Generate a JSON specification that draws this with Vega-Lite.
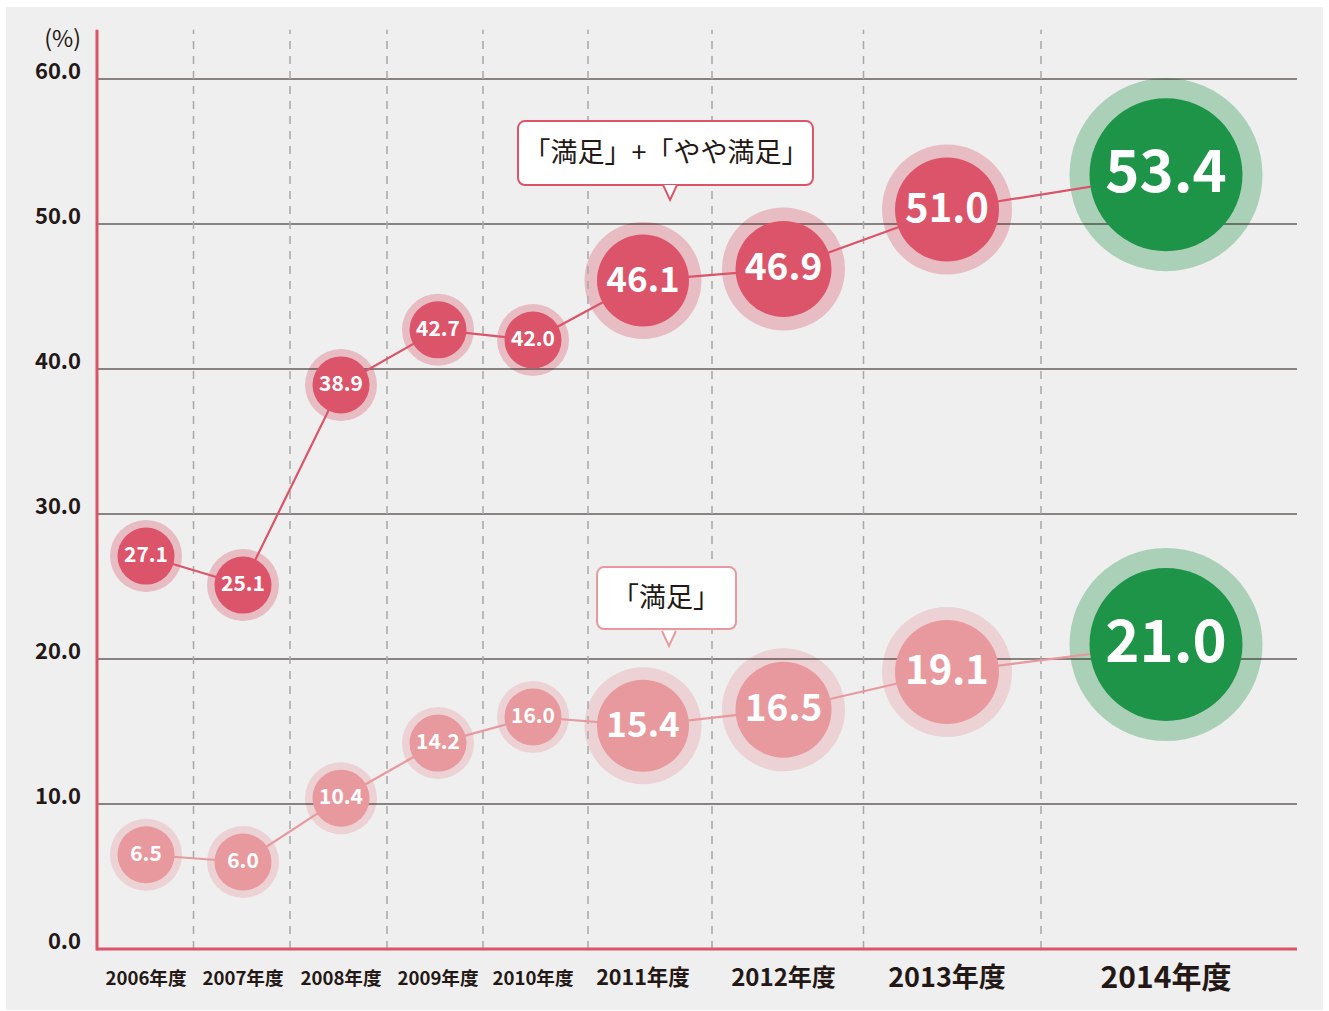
{
  "$schema": "https://vega.github.io/schema/vega-lite/v6.json",
  "width": 1317,
  "height": 1003,
  "padding": {"left": 6, "top": 7, "right": 6, "bottom": 1},
  "autosize": {"type": "none"},
  "background": "#ffffff",
  "config": {"view": {"fill": "#efefef", "stroke": null}, "font": "Noto Sans CJK JP"},
  "datasets": {
    "points": [
      {"year": "2006年度", "idx": 0, "series": "満足+やや満足", "value": 27.1},
      {"year": "2007年度", "idx": 1, "series": "満足+やや満足", "value": 25.1},
      {"year": "2008年度", "idx": 2, "series": "満足+やや満足", "value": 38.9},
      {"year": "2009年度", "idx": 3, "series": "満足+やや満足", "value": 42.7},
      {"year": "2010年度", "idx": 4, "series": "満足+やや満足", "value": 42.0},
      {"year": "2011年度", "idx": 5, "series": "満足+やや満足", "value": 46.1},
      {"year": "2012年度", "idx": 6, "series": "満足+やや満足", "value": 46.9},
      {"year": "2013年度", "idx": 7, "series": "満足+やや満足", "value": 51.0},
      {"year": "2014年度", "idx": 8, "series": "満足+やや満足", "value": 53.4},
      {"year": "2006年度", "idx": 0, "series": "満足", "value": 6.5},
      {"year": "2007年度", "idx": 1, "series": "満足", "value": 6.0},
      {"year": "2008年度", "idx": 2, "series": "満足", "value": 10.4},
      {"year": "2009年度", "idx": 3, "series": "満足", "value": 14.2},
      {"year": "2010年度", "idx": 4, "series": "満足", "value": 16.0},
      {"year": "2011年度", "idx": 5, "series": "満足", "value": 15.4},
      {"year": "2012年度", "idx": 6, "series": "満足", "value": 16.5},
      {"year": "2013年度", "idx": 7, "series": "満足", "value": 19.1},
      {"year": "2014年度", "idx": 8, "series": "満足", "value": 21.0}
    ],
    "years": [
      {"year": "2006年度", "idx": 0},
      {"year": "2007年度", "idx": 1},
      {"year": "2008年度", "idx": 2},
      {"year": "2009年度", "idx": 3},
      {"year": "2010年度", "idx": 4},
      {"year": "2011年度", "idx": 5},
      {"year": "2012年度", "idx": 6},
      {"year": "2013年度", "idx": 7},
      {"year": "2014年度", "idx": 8}
    ],
    "ticks": [
      {"tick": 0}, {"tick": 10}, {"tick": 20}, {"tick": 30}, {"tick": 40}, {"tick": 50}, {"tick": 60}
    ],
    "dividers": [
      {"between": "2006/2007", "boundary": 0.5},
      {"between": "2007/2008", "boundary": 1.5},
      {"between": "2008/2009", "boundary": 2.5},
      {"between": "2009/2010", "boundary": 3.5},
      {"between": "2010/2011", "boundary": 4.5},
      {"between": "2011/2012", "boundary": 5.5},
      {"between": "2012/2013", "boundary": 6.5},
      {"between": "2013/2014", "boundary": 7.5}
    ]
  },
  "layer": [
    {
      "data": {"name": "points"},
      "mark": {"type": "circle", "opacity": 0.33, "strokeWidth": 0},
      "encoding": {
        "x": {"field": "idx", "type": "quantitative", "axis": null, "scale": {"domain": [-1.5, -0.5, 0, 0.5, 1, 1.5, 2, 2.5, 3, 3.5, 4, 4.5, 5, 5.5, 6, 6.5, 7, 7.5, 8, 8.5, 9], "range": [0, 91, 140, 187.5, 237, 284, 335, 381, 432, 477, 527, 582, 637, 706, 777.5, 857.5, 941, 1035, 1160, 1291, 1317], "zero": false, "nice": false}},
        "y": {"field": "value", "type": "quantitative", "axis": null, "scale": {"domain": [-4.207, 64.966], "zero": false, "nice": false}},
        "size": {"field": "idx", "type": "quantitative", "scale": {"domain": [0, 4, 5, 6, 7, 8], "range": [5184, 5184, 13689, 15129, 16900, 37249], "zero": false}, "legend": null},
        "color": {"condition": {"test": "datum.idx === 8", "value": "#1e9448"}, "field": "series", "type": "nominal", "scale": {"domain": ["満足+やや満足", "満足"], "range": ["#dc5469", "#e8999d"]}, "legend": null}
      }
    },
    {
      "data": {"name": "ticks"},
      "transform": [{"filter": "datum.tick > 0"}],
      "mark": {"type": "rule", "color": "#231815", "strokeWidth": 1.2},
      "encoding": {
        "x": {"datum": -0.5, "axis": null},
        "x2": {"datum": 8.5},
        "y": {"field": "tick", "type": "quantitative", "axis": null}
      }
    },
    {
      "data": {"name": "dividers"},
      "mark": {"type": "rule", "color": "#a8a8a8", "strokeWidth": 1.5, "strokeDash": [8, 7]},
      "encoding": {
        "x": {"field": "boundary", "type": "quantitative", "axis": null},
        "y": {"datum": 0, "axis": null},
        "y2": {"datum": 63.4}
      }
    },
    {
      "data": {"name": "points"},
      "mark": {"type": "line", "strokeWidth": 2.2},
      "encoding": {
        "x": {"field": "idx", "type": "quantitative", "axis": null},
        "y": {"field": "value", "type": "quantitative", "axis": null},
        "color": {"field": "series", "type": "nominal", "legend": null},
        "order": {"field": "idx", "type": "quantitative"}
      }
    },
    {
      "data": {"name": "points"},
      "mark": {"type": "circle", "opacity": 1, "strokeWidth": 0},
      "encoding": {
        "x": {"field": "idx", "type": "quantitative", "axis": null},
        "y": {"field": "value", "type": "quantitative", "axis": null},
        "size": {"field": "idx", "type": "quantitative", "scale": {"domain": [0, 4, 5, 6, 7, 8], "range": [3249, 3249, 8464, 9216, 10816, 23409], "zero": false}, "legend": null},
        "color": {"condition": {"test": "datum.idx === 8", "value": "#1e9448"}, "field": "series", "type": "nominal", "legend": null}
      }
    },
    {
      "data": {"name": "points"},
      "mark": {"type": "text", "color": "#ffffff", "fontWeight": "bold", "baseline": "middle", "align": "center"},
      "encoding": {
        "x": {"field": "idx", "type": "quantitative", "axis": null},
        "y": {"field": "value", "type": "quantitative", "axis": null},
        "text": {"field": "value", "type": "quantitative", "format": ".1f"},
        "size": {"field": "idx", "type": "quantitative", "scale": {"domain": [0, 4, 5, 6, 7, 8], "range": [21, 21, 35, 37, 40, 58], "zero": false}, "legend": null}
      }
    },
    {
      "data": {"values": [{"axis": "y"}]},
      "mark": {"type": "rule", "color": "#dc5469", "strokeWidth": 3},
      "encoding": {
        "x": {"datum": -0.5, "axis": null},
        "y": {"datum": -0.1, "axis": null},
        "y2": {"datum": 63.4}
      }
    },
    {
      "data": {"values": [{"axis": "x"}]},
      "mark": {"type": "rule", "color": "#dc5469", "strokeWidth": 3},
      "encoding": {
        "x": {"datum": -0.5, "axis": null},
        "x2": {"datum": 8.5},
        "y": {"datum": 0, "axis": null}
      }
    },
    {
      "data": {"name": "ticks"},
      "mark": {"type": "text", "color": "#231815", "fontWeight": "bold", "fontSize": 22, "align": "right", "baseline": "middle", "dx": -16, "dy": -7},
      "encoding": {
        "x": {"datum": -0.5, "axis": null},
        "y": {"field": "tick", "type": "quantitative", "axis": null},
        "text": {"field": "tick", "type": "quantitative", "format": ".1f"}
      }
    },
    {
      "data": {"values": [{"unit": "(%)"}]},
      "mark": {"type": "text", "color": "#231815", "fontSize": 23, "align": "right", "baseline": "middle", "dx": -16},
      "encoding": {
        "x": {"datum": -0.5, "axis": null},
        "y": {"datum": 62.69, "axis": null},
        "text": {"field": "unit", "type": "nominal"}
      }
    },
    {
      "data": {"name": "years"},
      "mark": {"type": "text", "color": "#231815", "fontWeight": "bold", "align": "center", "baseline": "middle"},
      "encoding": {
        "x": {"field": "idx", "type": "quantitative", "axis": null},
        "y": {"datum": -2.1, "axis": null},
        "text": {"field": "year", "type": "nominal"},
        "size": {"field": "idx", "type": "quantitative", "scale": {"domain": [0, 4, 5, 6, 7, 8], "range": [18.6, 18.6, 21.5, 24, 27, 30], "zero": false}, "legend": null}
      }
    },
    {
      "data": {"values": [{"label": "「満足」+「やや満足」"}]},
      "mark": {"type": "rect", "fill": "#ffffff", "stroke": "#dc5469", "strokeWidth": 2, "cornerRadius": 7},
      "encoding": {
        "x": {"datum": 3.85, "axis": null},
        "x2": {"datum": 6.184},
        "y": {"datum": 57.1, "axis": null},
        "y2": {"datum": 52.69}
      }
    },
    {
      "data": {"values": [{"label": "「満足」+「やや満足」"}]},
      "mark": {"type": "point", "shape": "M -1 -1.15 L 0 1 L 1 -1.15", "size": 196, "filled": true, "fill": "#ffffff", "stroke": "#dc5469", "strokeWidth": 2, "opacity": 1},
      "encoding": {
        "x": {"datum": 5.196, "axis": null},
        "y": {"datum": 52.14, "axis": null}
      }
    },
    {
      "data": {"values": [{"label": "「満足」+「やや満足」"}]},
      "mark": {"type": "text", "color": "#231815", "fontSize": 27, "align": "center", "baseline": "middle"},
      "encoding": {
        "x": {"datum": 5.167, "axis": null},
        "y": {"datum": 54.83, "axis": null},
        "text": {"field": "label", "type": "nominal"}
      }
    },
    {
      "data": {"values": [{"label": "「満足」"}]},
      "mark": {"type": "rect", "fill": "#ffffff", "stroke": "#e8999d", "strokeWidth": 2, "cornerRadius": 7},
      "encoding": {
        "x": {"datum": 4.582, "axis": null},
        "x2": {"datum": 5.668},
        "y": {"datum": 26.34, "axis": null},
        "y2": {"datum": 22.07}
      }
    },
    {
      "data": {"values": [{"label": "「満足」"}]},
      "mark": {"type": "point", "shape": "M -1 -1.15 L 0 1 L 1 -1.15", "size": 196, "filled": true, "fill": "#ffffff", "stroke": "#e8999d", "strokeWidth": 2, "opacity": 1},
      "encoding": {
        "x": {"datum": 5.188, "axis": null},
        "y": {"datum": 21.38, "axis": null}
      }
    },
    {
      "data": {"values": [{"label": "「満足」"}]},
      "mark": {"type": "text", "color": "#231815", "fontSize": 27, "align": "center", "baseline": "middle"},
      "encoding": {
        "x": {"datum": 5.167, "axis": null},
        "y": {"datum": 24.14, "axis": null},
        "text": {"field": "label", "type": "nominal"}
      }
    }
  ],
  "resolve": {"scale": {"size": "independent"}}
}
